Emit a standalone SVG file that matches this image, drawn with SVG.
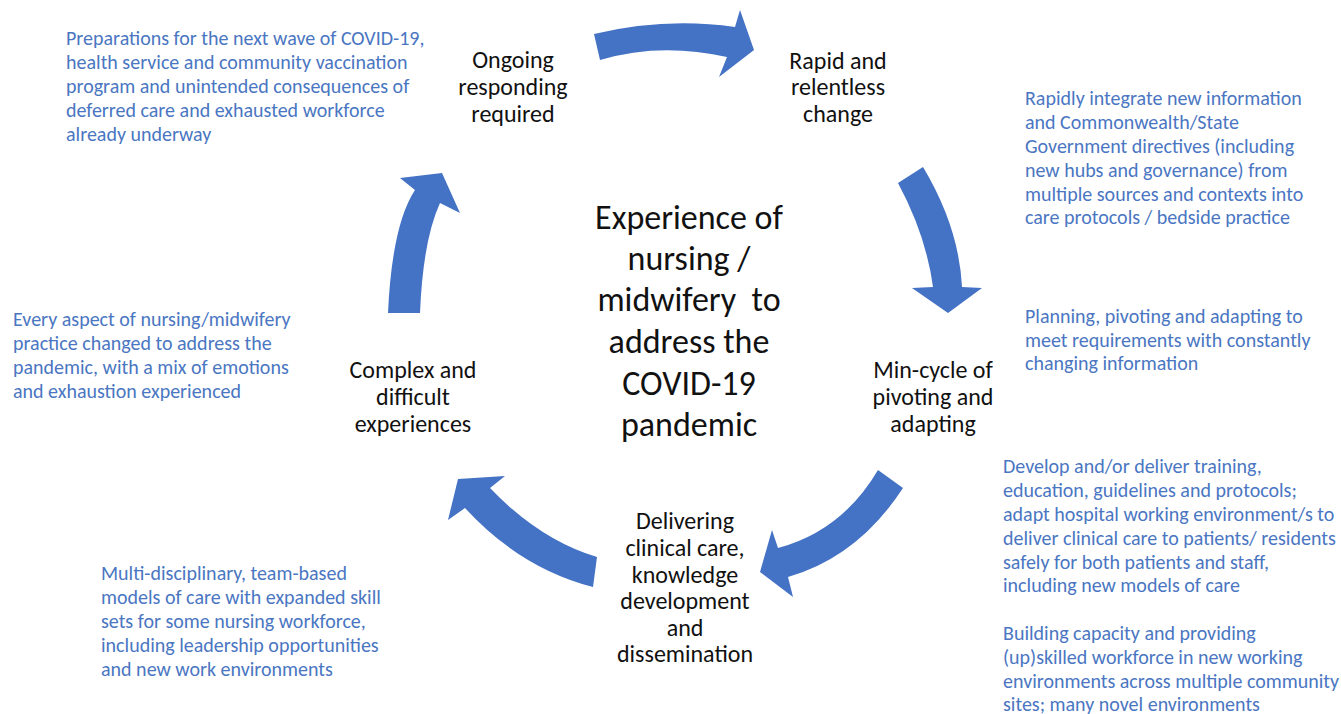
<svg xmlns="http://www.w3.org/2000/svg" width="1341" height="714" viewBox="0 0 1341 714">
<style>
.note{font-family:Carlito,Lato,"Liberation Sans",sans-serif;font-size:20px;fill:#4a76c2}
.lbl{font-family:Carlito,Lato,"Liberation Sans",sans-serif;font-size:24px;fill:#111;text-anchor:middle}
.ctr{font-family:Carlito,Lato,"Liberation Sans",sans-serif;font-size:34px;fill:#111;text-anchor:middle}
.arr{fill:#4472c4}
</style>
<rect width="1341" height="714" fill="#fff"/>
<g id="connectors">
<path class="arr" d="M594,34 Q665,17 735,27 L740,10 L754,50 L719,77 L727,57 Q660,42 600,60 Z"/>
<path class="arr" d="M898,183 L923,167 Q959,227 962,287 L982,288 L948,313 L912,288 L933,287 Q926,235 898,183 Z"/>
<path class="arr" d="M878,470 L903,488 Q858,557 788,577 L793,597 L760,572 L772,530 L778,548 Q842,531 878,470 Z"/>
<path class="arr" d="M597,557 L593,587 Q520,568 465,508 L448,520 L458,479 L505,476 L490,488 Q540,540 597,557 Z"/>
<path class="arr" d="M388,313 Q392,225 415,190 L400,178 L442,173 L460,213 L440,203 Q423,240 420,313 Z"/>
</g>
<g id="center">
<text class="ctr" x="689" y="229">Experience of</text>
<text class="ctr" x="689" y="270">nursing /</text>
<text class="ctr" x="689" y="311">midwifery&#160; to</text>
<text class="ctr" x="689" y="353">address the</text>
<text class="ctr" x="689" y="395">COVID-19</text>
<text class="ctr" x="689" y="436">pandemic</text>
</g>
<g id="node-ongoing">
<text class="lbl" x="513" y="68">Ongoing</text>
<text class="lbl" x="513" y="95">responding</text>
<text class="lbl" x="513" y="122">required</text>
</g>
<g id="node-rapid">
<text class="lbl" x="838" y="69">Rapid and</text>
<text class="lbl" x="838" y="95">relentless</text>
<text class="lbl" x="838" y="122">change</text>
</g>
<g id="node-mincycle">
<text class="lbl" x="933" y="378">Min-cycle of</text>
<text class="lbl" x="933" y="405">pivoting and</text>
<text class="lbl" x="933" y="432">adapting</text>
</g>
<g id="node-delivering">
<text class="lbl" x="685" y="529">Delivering</text>
<text class="lbl" x="685" y="556">clinical care,</text>
<text class="lbl" x="685" y="583">knowledge</text>
<text class="lbl" x="685" y="609">development</text>
<text class="lbl" x="685" y="636">and</text>
<text class="lbl" x="685" y="662">dissemination</text>
</g>
<g id="node-complex">
<text class="lbl" x="413" y="378">Complex and</text>
<text class="lbl" x="413" y="405">difficult</text>
<text class="lbl" x="413" y="432">experiences</text>
</g>
<g id="note-topleft">
<text class="note" x="66" y="45">Preparations for the next wave of COVID-19,</text>
<text class="note" x="66" y="69">health service and community vaccination</text>
<text class="note" x="66" y="93">program and unintended consequences of</text>
<text class="note" x="66" y="117">deferred care and exhausted workforce</text>
<text class="note" x="66" y="141">already underway</text>
</g>
<g id="note-topright">
<text class="note" x="1025" y="105">Rapidly integrate new information</text>
<text class="note" x="1025" y="129">and Commonwealth/State</text>
<text class="note" x="1025" y="153">Government directives (including</text>
<text class="note" x="1025" y="177">new hubs and governance) from</text>
<text class="note" x="1025" y="201">multiple sources and contexts into</text>
<text class="note" x="1025" y="224">care protocols / bedside practice</text>
</g>
<g id="note-midright">
<text class="note" x="1025" y="323">Planning, pivoting and adapting to</text>
<text class="note" x="1025" y="347">meet requirements with constantly</text>
<text class="note" x="1025" y="370">changing information</text>
</g>
<g id="note-lowright">
<text class="note" x="1003" y="473">Develop and/or deliver training,</text>
<text class="note" x="1003" y="497">education, guidelines and protocols;</text>
<text class="note" x="1003" y="521">adapt hospital working environment/s to</text>
<text class="note" x="1003" y="545">deliver clinical care to patients/ residents</text>
<text class="note" x="1003" y="569">safely for both patients and staff,</text>
<text class="note" x="1003" y="592">including new models of care</text>
<text class="note" x="1003" y="640">Building capacity and providing</text>
<text class="note" x="1003" y="664">(up)skilled workforce in new working</text>
<text class="note" x="1003" y="688">environments across multiple community</text>
<text class="note" x="1003" y="711">sites; many novel environments</text>
</g>
<g id="note-midleft">
<text class="note" x="13" y="326">Every aspect of nursing/midwifery</text>
<text class="note" x="13" y="350">practice changed to address the</text>
<text class="note" x="13" y="374">pandemic, with a mix of emotions</text>
<text class="note" x="13" y="398">and exhaustion experienced</text>
</g>
<g id="note-bottomleft">
<text class="note" x="101" y="580">Multi-disciplinary, team-based</text>
<text class="note" x="101" y="604">models of care with expanded skill</text>
<text class="note" x="101" y="628">sets for some nursing workforce,</text>
<text class="note" x="101" y="652">including leadership opportunities</text>
<text class="note" x="101" y="676">and new work environments</text>
</g>
</svg>
